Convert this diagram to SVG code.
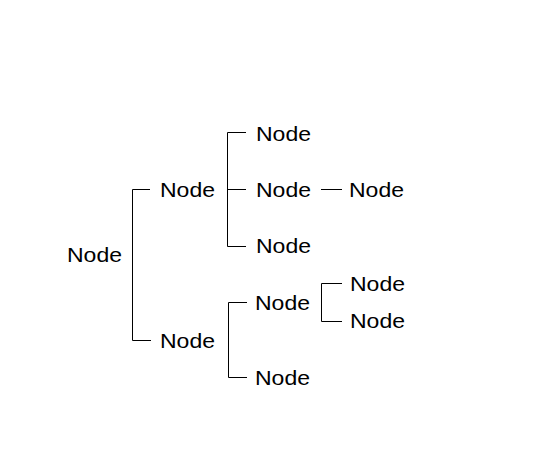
<svg xmlns="http://www.w3.org/2000/svg" width="548" height="476" viewBox="0 0 548 476">
<style>
text{font-family:"Liberation Sans",Arial,sans-serif;font-size:21px;fill:#000}
.c{fill:none;stroke:#000;stroke-width:1}
</style>
<rect width="548" height="476" fill="#fff"/>
<g id="connectors">
<path class="c" d="M150,189.5H132.5V340.5H151"/>
<path class="c" d="M227.5,132.5V246.5M227.5,132.5H246M227.5,189.5H246M227.5,246.5H246"/>
<path class="c" d="M321,189.5H342"/>
<path class="c" d="M228.5,302.5V377.5M228.5,302.5H247M228.5,377.5H247"/>
<path class="c" d="M342,283.5H321.5V321.5H342"/>
</g>
<g id="root"><text x="67" y="262" textLength="55" lengthAdjust="spacingAndGlyphs">Node</text></g>
<g id="n1"><text x="160" y="197" textLength="55" lengthAdjust="spacingAndGlyphs">Node</text></g>
<g id="n2"><text x="160" y="348" textLength="55" lengthAdjust="spacingAndGlyphs">Node</text></g>
<g id="n11"><text x="256" y="141" textLength="55" lengthAdjust="spacingAndGlyphs">Node</text></g>
<g id="n12"><text x="256" y="197" textLength="55" lengthAdjust="spacingAndGlyphs">Node</text></g>
<g id="n13"><text x="256" y="253" textLength="55" lengthAdjust="spacingAndGlyphs">Node</text></g>
<g id="n121"><text x="349" y="197" textLength="55" lengthAdjust="spacingAndGlyphs">Node</text></g>
<g id="n21"><text x="255" y="310" textLength="55" lengthAdjust="spacingAndGlyphs">Node</text></g>
<g id="n22"><text x="255" y="385" textLength="55" lengthAdjust="spacingAndGlyphs">Node</text></g>
<g id="n211"><text x="350" y="291" textLength="55" lengthAdjust="spacingAndGlyphs">Node</text></g>
<g id="n212"><text x="350" y="328" textLength="55" lengthAdjust="spacingAndGlyphs">Node</text></g>
</svg>
